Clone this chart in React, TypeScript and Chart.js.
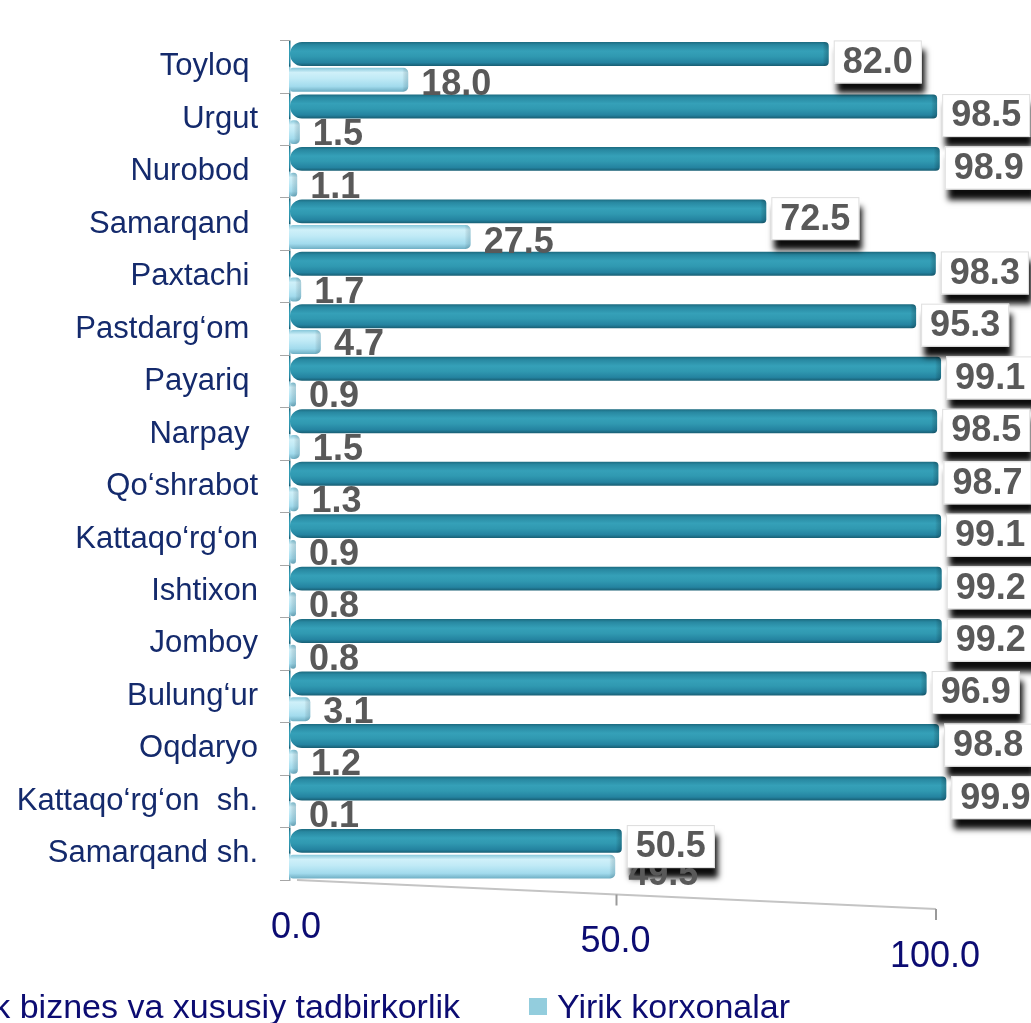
import React, { useEffect, useRef } from 'react';
import { Chart, registerables } from 'chart.js';

Chart.register(...registerables);

// ---------- data ----------
const categories = [
  'Toyloq ',
  'Urgut',
  'Nurobod ',
  'Samarqand ',
  'Paxtachi ',
  'Pastdarg‘om ',
  'Payariq ',
  'Narpay ',
  'Qo‘shrabot',
  'Kattaqo‘rg‘on',
  'Ishtixon',
  'Jomboy',
  'Bulung‘ur',
  'Oqdaryo',
  'Kattaqo‘rg‘on  sh.',
  'Samarqand sh.',
];
const smallBusiness = [82.0, 98.5, 98.9, 72.5, 98.3, 95.3, 99.1, 98.5, 98.7, 99.1, 99.2, 99.2, 96.9, 98.8, 99.9, 50.5];
const largeEnterprises = [18.0, 1.5, 1.1, 27.5, 1.7, 4.7, 0.9, 1.5, 1.3, 0.9, 0.8, 0.8, 3.1, 1.2, 0.1, 49.5];
const seriesNames = ['Kichik biznes va xususiy tadbirkorlik', 'Yirik korxonalar'];
const xTickValues = [0, 50, 100];
const xTickLabels = ['0.0', '50.0', '100.0'];

// ---------- styles ----------
const FONT = "'Liberation Sans', Arial, sans-serif";
const LABEL_NAVY = '#142a6c';
const TICK_NAVY = '#0c0c72';
const VALUE_GREY = '#595959';
const DARK_BASE = '#2e93ab';
const LIGHT_BASE = '#a9e0f0';
const LEGEND_COLORS = ['#2e93ab', '#93cddd'];

const darkStops: [number, string][] = [
  [0, '#1c6b80'],
  [0.12, '#2888a1'],
  [0.38, '#35a0b8'],
  [0.6, '#3099b1'],
  [0.86, '#2483a0'],
  [1, '#185e73'],
];
const lightStops: [number, string][] = [
  [0, '#86c7da'],
  [0.2, '#cff0f9'],
  [0.45, '#c0eaf6'],
  [0.78, '#a2dbed'],
  [1, '#6eaec3'],
];

const decorPlugin = {
  id: 'decor',
  afterDatasetsDraw(chart: any) {
    const ctx: CanvasRenderingContext2D = chart.ctx;
    ctx.save();
    ctx.globalCompositeOperation = 'source-atop';
    chart.data.datasets.forEach((_ds: any, di: number) => {
      const meta = chart.getDatasetMeta(di);
      const stops = di === 0 ? darkStops : lightStops;
      meta.data.forEach((el: any) => {
        const { x, y, base, height } = el.getProps(['x', 'y', 'base', 'height'], true);
        const top = y - height / 2;
        const g = ctx.createLinearGradient(0, top, 0, top + height);
        stops.forEach(([o, c]) => g.addColorStop(o, c));
        ctx.fillStyle = g;
        ctx.fillRect(Math.min(base, x) - 1, top - 1, Math.abs(x - base) + 2, height + 2);
        const cap = ctx.createLinearGradient(x - 6, 0, x, 0);
        cap.addColorStop(0, 'rgba(0,0,0,0)');
        cap.addColorStop(1, di === 0 ? 'rgba(10,50,65,0.3)' : 'rgba(60,110,130,0.25)');
        ctx.fillStyle = cap;
        ctx.fillRect(x - 6, top - 1, 7, height + 2);
      });
    });
    ctx.restore();
  },
  afterDraw(chart: any) {
    const ctx: CanvasRenderingContext2D = chart.ctx;
    const xs = chart.scales.x;
    const area = chart.chartArea;
    const darkMeta = chart.getDatasetMeta(0);
    const lightMeta = chart.getDatasetMeta(1);
    const valueFont = `bold 36px ${FONT}`;

    // floor line (3D perspective look)
    ctx.save();
    const fx = (v: number) => xs.getPixelForValue(v) + 7 - v * 0.18;
    const fy = (v: number) => area.bottom + v * 0.29;
    ctx.strokeStyle = '#c4c4c4';
    ctx.lineWidth = 2;
    ctx.beginPath();
    ctx.moveTo(fx(0), fy(0));
    ctx.lineTo(fx(100), fy(100));
    ctx.stroke();
    ctx.strokeStyle = '#9a9a9a';
    xTickValues.forEach((v) => {
      if (v === 0) return;
      ctx.beginPath();
      ctx.moveTo(fx(v), fy(v));
      ctx.lineTo(fx(v), fy(v) + 11);
      ctx.stroke();
    });

    // x tick labels
    ctx.font = `36px ${FONT}`;
    ctx.fillStyle = TICK_NAVY;
    ctx.textAlign = 'center';
    ctx.textBaseline = 'middle';
    xTickValues.forEach((v, i) => {
      ctx.fillText(xTickLabels[i], fx(v) - 1, area.bottom + 48 + v * 0.29);
    });
    ctx.restore();

    // box geometry for dark labels
    ctx.save();
    ctx.font = valueFont;
    const boxes = darkMeta.data.map((el: any, i: number) => {
      const { x, y, base } = el.getProps(['x', 'y', 'base'], true);
      const txt = smallBusiness[i].toFixed(1);
      const tw = ctx.measureText(txt).width;
      const bx = x + 5;
      const cy = y + 2 + (x - base) * 0.011;
      return { txt, bx, cy, bw: tw + 18, bh: 43 };
    });
    ctx.shadowColor = 'rgba(0,0,0,0.95)';
    ctx.shadowBlur = 6;
    ctx.shadowOffsetX = 3;
    ctx.shadowOffsetY = 10;
    ctx.fillStyle = '#ffffff';
    boxes.forEach((b: any) => ctx.fillRect(b.bx, b.cy - b.bh / 2, b.bw, b.bh));
    ctx.restore();

    // light series labels
    ctx.save();
    ctx.font = valueFont;
    ctx.fillStyle = VALUE_GREY;
    ctx.textAlign = 'left';
    ctx.textBaseline = 'middle';
    lightMeta.data.forEach((el: any, i: number) => {
      const { x, y, base } = el.getProps(['x', 'y', 'base'], true);
      ctx.fillText(largeEnterprises[i].toFixed(1), x + 13, y + 3 + (x - base) * 0.018);
    });
    ctx.restore();

    // white boxes + dark series labels
    ctx.save();
    ctx.font = valueFont;
    boxes.forEach((b: any) => {
      ctx.fillStyle = '#ffffff';
      ctx.fillRect(b.bx, b.cy - b.bh / 2, b.bw, b.bh);
      ctx.strokeStyle = 'rgba(200,200,200,0.6)';
      ctx.lineWidth = 1;
      ctx.strokeRect(b.bx + 0.5, b.cy - b.bh / 2 + 0.5, b.bw - 1, b.bh - 1);
      ctx.fillStyle = VALUE_GREY;
      ctx.textAlign = 'left';
      ctx.textBaseline = 'middle';
      ctx.fillText(b.txt, b.bx + 9, b.cy + 1);
    });
    ctx.restore();

    // legend (partly outside the picture on the left, as in the source)
    ctx.save();
    ctx.font = `34px ${FONT}`;
    ctx.textBaseline = 'alphabetic';
    ctx.textAlign = 'left';
    const m2x = 529;
    const baseY = 1018;
    const w1 = ctx.measureText(seriesNames[0]).width;
    const t1x = m2x - 69 - w1;
    const m1x = t1x - 28;
    ctx.fillStyle = LEGEND_COLORS[0];
    ctx.fillRect(m1x, 998, 18, 17);
    ctx.fillStyle = TICK_NAVY;
    ctx.fillText(seriesNames[0], t1x, baseY);
    ctx.fillStyle = LEGEND_COLORS[1];
    ctx.fillRect(m2x, 998, 18, 17);
    ctx.fillStyle = TICK_NAVY;
    ctx.fillText(seriesNames[1], m2x + 28, baseY);
    ctx.restore();
  },
};

export default function App() {
  const canvasRef = useRef<HTMLCanvasElement | null>(null);

  useEffect(() => {
    if (!canvasRef.current) return;
    const chart = new Chart(canvasRef.current, {
      type: 'bar',
      data: {
        labels: categories,
        datasets: [
          {
            label: seriesNames[0],
            data: smallBusiness,
            backgroundColor: DARK_BASE,
            borderWidth: 0,
            borderSkipped: false,
            borderRadius: { topLeft: 12, bottomLeft: 12, topRight: 4, bottomRight: 4 },
            categoryPercentage: 0.98,
            barPercentage: 0.93,
          },
          {
            label: seriesNames[1],
            data: largeEnterprises,
            backgroundColor: LIGHT_BASE,
            borderWidth: 0,
            borderSkipped: false,
            borderRadius: { topLeft: 3, bottomLeft: 3, topRight: 5, bottomRight: 5 },
            minBarLength: 6,
            categoryPercentage: 0.98,
            barPercentage: 0.93,
          },
        ],
      } as any,
      options: {
        indexAxis: 'y',
        responsive: false,
        animation: false,
        devicePixelRatio: 1,
        layout: { padding: { left: 0, right: 84, top: 20, bottom: 143 } },
        plugins: {
          legend: { display: false },
          tooltip: { enabled: false },
        },
        scales: {
          x: {
            display: false,
            min: 0,
            max: 100,
          },
          y: {
            position: 'left',
            ticks: {
              color: LABEL_NAVY,
              font: { family: FONT, size: 31 },
              padding: 22,
              autoSkip: false,
            },
            grid: {
              display: true,
              drawOnChartArea: false,
              drawTicks: true,
              tickLength: 10,
              color: '#a6a6a6',
              offset: true,
            },
            border: { display: true, color: '#a6a6a6', width: 1.5 },
            afterFit: (s: any) => {
              s.width = 290;
            },
          },
        },
      } as any,
      plugins: [decorPlugin],
    });
    return () => chart.destroy();
  }, []);

  return (
    <div style={{ position: 'absolute', left: 0, top: 0, width: 1031, height: 1023, background: '#ffffff', overflow: 'hidden' }}>
      <canvas ref={canvasRef} width={1031} height={1023} style={{ display: 'block' }} />
    </div>
  );
}
